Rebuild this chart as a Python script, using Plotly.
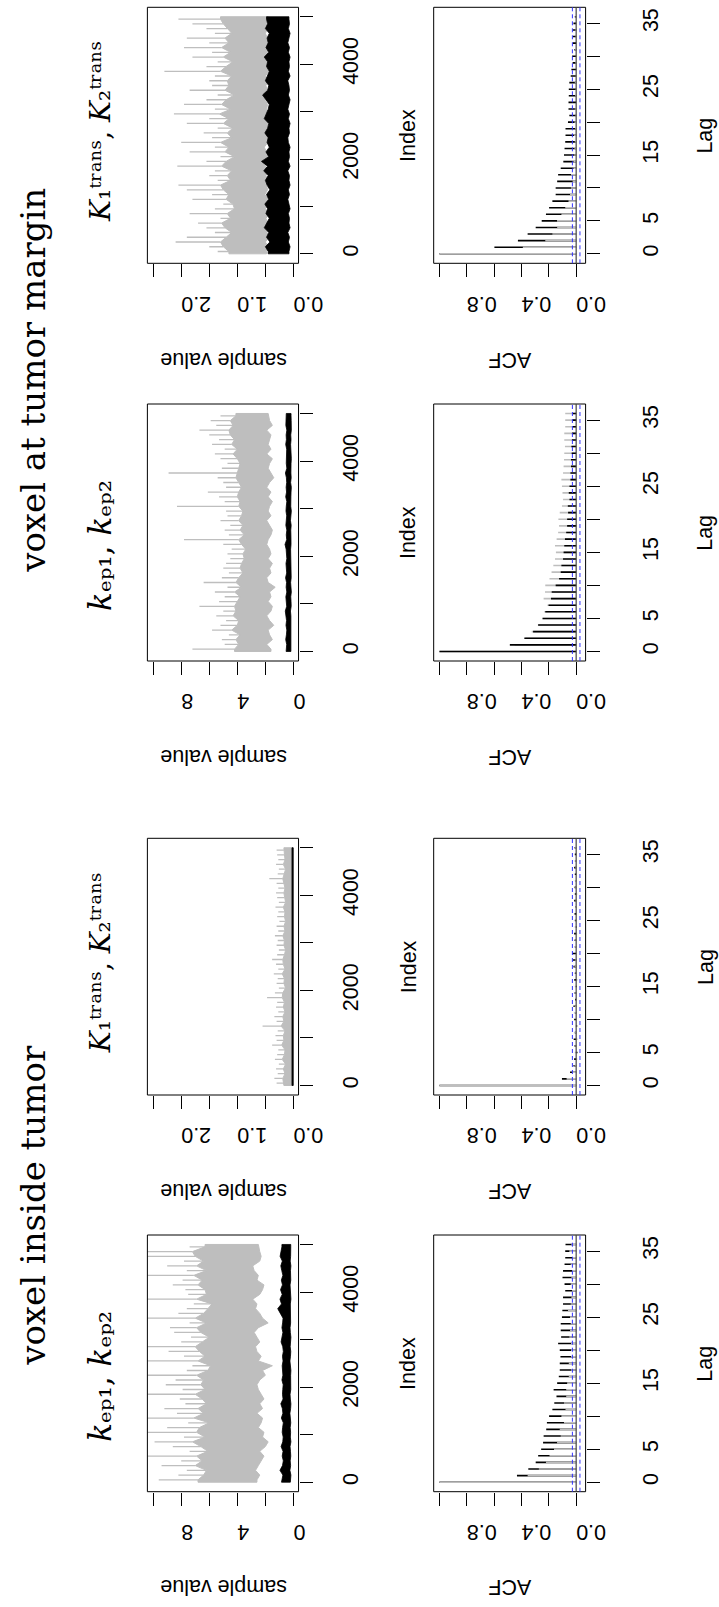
import plotly.graph_objects as go

W, H = 719, 1607

# ---------------- trace data: per 100-iteration bin ----------------
# lo = lowest sample, core = edge of the dense part, hi = highest excursion
# voxel at tumor margin, Ktrans
margin_ktrans_gray_lo = [0.48,0.45,0.50,0.44,0.47,0.52,0.46,0.49,0.43,0.50,
                         0.47,0.44,0.51,0.46,0.48,0.42,0.49,0.45,0.50,0.47,
                         0.44,0.48,0.52,0.46,0.43,0.49,0.47,0.45,0.50,0.44,
                         0.48,0.46,0.51,0.43,0.47,0.49,0.45,0.50,0.44,0.48,
                         0.46,0.52,0.45,0.49,0.43,0.47,0.50,0.46,0.48,0.45]
margin_ktrans_gray_core = [1.15,1.25,1.30,1.20,1.10,1.22,1.28,1.12,1.18,1.05,
                           1.08,1.20,1.15,1.25,1.30,1.12,1.18,1.10,1.28,1.20,
                           1.05,1.22,1.15,1.30,1.10,1.18,1.08,1.25,1.15,1.32,
                           1.12,1.28,1.20,1.05,1.22,1.15,1.18,1.10,1.30,1.20,
                           1.08,1.25,1.12,1.28,1.15,1.22,1.10,1.18,1.25,1.30]
margin_ktrans_gray_hi = [1.35,1.50,2.10,1.90,1.40,1.55,1.70,1.30,1.85,1.40,
                         1.25,1.80,1.45,1.90,2.05,1.35,1.50,1.40,2.07,1.55,
                         1.30,1.85,1.40,2.00,1.45,1.60,1.35,1.90,1.50,2.13,
                         1.40,1.95,1.55,1.35,1.85,1.45,1.50,1.40,2.30,1.55,
                         1.35,1.80,1.45,1.95,1.50,1.90,1.40,1.55,1.80,2.05]
margin_ktrans_black_lo = [0.08,0.06,0.09,0.07,0.10,0.06,0.08,0.07,0.09,0.06,
                          0.08,0.10,0.07,0.09,0.06,0.08,0.07,0.10,0.06,0.09,
                          0.07,0.08,0.06,0.09,0.10,0.07,0.08,0.06,0.09,0.07,
                          0.10,0.08,0.06,0.09,0.07,0.08,0.10,0.06,0.09,0.07,
                          0.08,0.06,0.09,0.07,0.10,0.08,0.06,0.09,0.07,0.08]
margin_ktrans_black_hi = [0.45,0.50,0.42,0.48,0.44,0.52,0.47,0.43,0.49,0.46,
                          0.51,0.44,0.48,0.42,0.47,0.50,0.45,0.53,0.46,0.57,
                          0.44,0.49,0.43,0.47,0.45,0.51,0.46,0.44,0.52,0.48,
                          0.45,0.43,0.49,0.55,0.46,0.44,0.50,0.47,0.43,0.48,
                          0.46,0.52,0.44,0.49,0.45,0.47,0.43,0.50,0.46,0.48]
# voxel at tumor margin, kep
margin_kep_gray_lo = [1.6,1.9,1.5,1.7,1.8,1.4,1.7,1.9,1.6,1.5,
                      1.8,1.6,1.7,1.3,1.8,1.9,1.6,1.7,1.5,1.8,
                      1.6,1.7,1.9,1.8,1.6,1.5,1.7,1.9,1.6,1.8,
                      1.7,1.5,1.8,1.6,1.9,1.7,1.4,1.6,1.8,1.7,
                      1.5,1.9,1.6,1.8,1.7,1.6,1.9,1.5,1.7,1.8]
margin_kep_gray_core = [4.2,3.9,4.1,3.8,4.4,4.0,3.9,4.3,4.1,4.2,
                        4.0,3.8,4.2,3.7,4.1,3.9,3.6,3.8,3.7,3.5,
                        3.6,3.4,3.7,3.9,3.5,3.8,3.6,3.9,3.7,3.6,
                        3.9,3.8,4.0,3.9,3.7,3.9,4.1,4.0,3.9,3.8,
                        4.0,4.3,4.0,4.4,4.2,4.5,4.6,4.3,4.5,4.1]
margin_kep_gray_hi = [7.2,4.9,5.1,4.6,5.8,5.2,4.8,5.5,5.0,6.7,
                      5.3,4.9,5.6,4.7,6.4,5.1,4.6,5.0,4.8,4.5,
                      4.7,4.4,5.0,7.8,4.6,4.9,4.5,5.2,4.7,4.8,
                      8.3,4.9,5.3,6.1,4.8,5.0,5.4,8.9,5.1,4.7,
                      5.2,5.6,4.9,5.8,5.3,6.0,6.7,5.5,5.9,5.2]
margin_kep_black_lo = [0.18,0.15,0.20,0.17,0.16,0.19,0.15,0.18,0.21,0.16,
                       0.17,0.19,0.15,0.18,0.20,0.16,0.17,0.15,0.19,0.18,
                       0.16,0.20,0.17,0.15,0.18,0.19,0.16,0.21,0.17,0.15,
                       0.19,0.16,0.18,0.17,0.15,0.20,0.16,0.18,0.19,0.17,
                       0.15,0.18,0.16,0.20,0.17,0.19,0.15,0.18,0.16,0.17]
margin_kep_black_hi = [0.52,0.48,0.55,0.50,0.47,0.53,0.49,0.51,0.58,0.48,
                       0.50,0.54,0.47,0.52,0.49,0.56,0.48,0.51,0.53,0.47,
                       0.49,0.52,0.60,0.48,0.51,0.47,0.54,0.50,0.48,0.53,
                       0.51,0.47,0.55,0.49,0.52,0.48,0.50,0.57,0.47,0.51,
                       0.53,0.49,0.48,0.55,0.50,0.52,0.47,0.54,0.49,0.51]
# voxel inside tumor, Ktrans
inside_ktrans_gray_lo = [0.012,0.008,0.015,0.010,0.006,0.014,0.009,0.011,0.007,0.013,
                         0.010,0.006,0.012,0.015,0.008,0.011,0.009,0.013,0.007,0.010,
                         0.014,0.008,0.011,0.006,0.012,0.009,0.015,0.010,0.007,0.013,
                         0.009,0.011,0.006,0.014,0.010,0.008,0.012,0.007,0.015,0.009,
                         0.011,0.013,0.008,0.010,0.006,0.012,0.009,0.014,0.007,0.011]
inside_ktrans_gray_core = [0.17,0.19,0.15,0.18,0.14,0.20,0.16,0.15,0.21,0.17,
                           0.18,0.15,0.22,0.17,0.19,0.15,0.18,0.16,0.20,0.19,
                           0.14,0.17,0.16,0.20,0.15,0.18,0.19,0.16,0.14,0.17,
                           0.16,0.19,0.15,0.17,0.14,0.16,0.15,0.18,0.14,0.16,
                           0.17,0.15,0.17,0.19,0.16,0.14,0.18,0.15,0.16,0.17]
inside_ktrans_gray_hi = [0.30,0.34,0.28,0.31,0.26,0.33,0.29,0.27,0.38,0.30,
                         0.32,0.28,0.55,0.30,0.34,0.27,0.31,0.29,0.47,0.33,
                         0.26,0.30,0.28,0.35,0.27,0.31,0.38,0.29,0.26,0.30,
                         0.28,0.33,0.27,0.30,0.25,0.29,0.27,0.32,0.26,0.29,
                         0.31,0.27,0.30,0.43,0.28,0.26,0.31,0.27,0.29,0.30]
inside_ktrans_black_lo = [0.004,0.006,0.003,0.005,0.007,0.004,0.006,0.003,0.005,0.004,
                          0.006,0.003,0.005,0.004,0.007,0.005,0.003,0.006,0.004,0.005,
                          0.003,0.006,0.004,0.005,0.007,0.003,0.005,0.004,0.006,0.003,
                          0.005,0.004,0.006,0.003,0.005,0.007,0.004,0.006,0.003,0.005,
                          0.004,0.006,0.003,0.005,0.004,0.007,0.005,0.003,0.006,0.004]
inside_ktrans_black_hi = [0.026,0.022,0.028,0.024,0.021,0.027,0.023,0.025,0.029,0.022,
                          0.024,0.027,0.021,0.026,0.023,0.028,0.022,0.025,0.024,0.027,
                          0.023,0.026,0.030,0.022,0.025,0.021,0.027,0.024,0.022,0.026,
                          0.025,0.023,0.028,0.021,0.026,0.024,0.022,0.027,0.023,0.025,
                          0.026,0.022,0.024,0.028,0.023,0.025,0.021,0.027,0.024,0.026]
# voxel inside tumor, kep
inside_kep_gray_lo = [2.6,2.4,2.7,2.5,2.3,2.1,2.4,2.0,1.8,2.2,
                      2.1,2.5,2.3,2.2,2.6,2.2,2.4,2.1,2.3,2.5,
                      2.6,2.4,2.0,2.2,1.5,2.5,2.3,2.6,2.7,2.4,
                      2.6,2.8,2.5,1.8,2.2,2.4,2.7,2.6,2.9,2.4,
                      2.2,2.1,2.6,2.5,2.8,2.9,2.4,2.3,2.4,2.5]
inside_kep_gray_core = [6.8,6.4,6.2,7.0,6.5,6.9,6.1,6.6,7.2,6.3,
                        6.9,6.7,6.0,7.1,6.4,6.8,6.2,6.5,7.0,6.3,
                        6.6,6.4,6.9,6.1,5.9,6.8,6.3,6.7,7.0,6.5,
                        6.0,6.6,6.9,6.2,7.0,6.4,6.1,5.8,6.9,6.2,
                        6.3,6.8,6.5,7.1,6.2,6.9,6.4,7.0,7.2,6.3]
inside_kep_gray_hi = [9.6,8.2,7.6,9.4,8.0,10.8,7.4,8.6,9.9,7.8,
                      10.8,9.0,7.5,10.8,8.3,9.2,7.7,8.1,10.8,7.9,
                      9.1,8.4,10.8,7.6,7.2,10.8,7.8,8.9,10.8,8.0,
                      7.3,8.5,8.8,7.4,10.8,8.2,7.6,7.1,10.8,7.5,
                      7.7,8.6,7.9,10.8,7.6,9.0,7.8,10.8,10.8,7.4]
inside_kep_black_lo = [0.22,0.18,0.25,0.20,0.23,0.19,0.21,0.24,0.18,0.22,
                       0.20,0.23,0.19,0.21,0.25,0.20,0.18,0.22,0.24,0.19,
                       0.21,0.23,0.20,0.18,0.22,0.25,0.21,0.19,0.23,0.20,
                       0.18,0.22,0.24,0.20,0.21,0.19,0.23,0.22,0.18,0.21,
                       0.20,0.24,0.19,0.22,0.21,0.18,0.23,0.20,0.22,0.19]
inside_kep_black_hi = [0.85,0.75,0.96,0.78,0.72,0.80,0.74,0.88,0.76,0.73,
                       0.80,0.77,0.72,0.86,0.75,0.79,0.90,0.74,0.78,0.76,
                       0.73,0.82,0.75,0.77,0.80,0.74,0.78,0.72,0.76,0.88,
                       0.79,0.75,0.82,0.77,0.74,0.95,1.12,0.85,0.96,0.80,
                       0.92,0.78,0.86,0.75,0.83,0.90,0.79,0.95,0.88,0.82]

# ---------------- ACF values, lags 0..36 ----------------
lags = list(range(37))
margin_ktrans_acf_black = [1.0,0.598,0.426,0.355,0.296,0.252,0.221,0.198,0.174,0.15,
                           0.15,0.139,0.132,0.113,0.094,0.089,0.085,0.08,0.078,0.078,
                           0.06,0.05,0.056,0.056,0.054,0.054,0.05,0.04,0.035,0.026,
                           0.03,0.014,0.025,0.024,0.025,0.02,0.01]
margin_ktrans_acf_gray = [1.0,0.39,0.226,0.174,0.139,0.14,0.108,0.08,0.056,0.045,
                          0.038,0.026,0.038,0.02,0.02,0.014,0.012,0.01,0.015,0.008,
                          0.012,0.005,0.01,-0.005,0.008,0.004,0.01,0.003,-0.004,0.006,
                          0.002,0.01,-0.003,0.004,0.007,0.002,0.005]
margin_kep_acf_black = [1.0,0.485,0.379,0.315,0.278,0.245,0.226,0.202,0.184,0.179,
                        0.15,0.125,0.113,0.108,0.096,0.092,0.087,0.082,0.073,0.066,
                        0.066,0.059,0.061,0.049,0.054,0.049,0.042,0.042,0.038,0.038,
                        0.033,0.035,0.031,0.031,0.026,0.026,0.026]
margin_kep_acf_gray = [1.0,0.45,0.37,0.325,0.28,0.25,0.233,0.21,0.238,0.228,
                       0.226,0.195,0.18,0.167,0.155,0.148,0.155,0.143,0.132,0.125,
                       0.13,0.12,0.104,0.096,0.10,0.104,0.108,0.096,0.092,0.089,
                       0.087,0.082,0.087,0.087,0.08,0.08,0.08]
inside_ktrans_acf_black = [1.0,0.104,0.045,0.02,0.015,-0.01,0.012,0.018,0.01,-0.008,
                           0.015,0.01,0.02,0.008,0.012,-0.006,0.014,0.01,0.02,0.025,
                           0.03,0.01,0.012,0.015,-0.005,0.01,0.012,0.008,0.015,0.01,
                           0.012,0.005,0.01,0.015,0.008,0.01,0.012]
inside_ktrans_acf_gray = [1.0,0.07,0.03,0.012,-0.008,0.01,0.006,-0.01,0.012,0.004,
                          -0.006,0.009,0.011,-0.004,0.007,0.01,-0.009,0.005,0.012,0.008,
                          -0.005,0.01,0.006,-0.007,0.011,0.004,-0.006,0.009,0.005,-0.008,
                          0.007,0.01,-0.004,0.006,0.012,-0.006,0.008]
inside_kep_acf_black = [1.0,0.433,0.35,0.296,0.278,0.256,0.242,0.238,0.219,0.214,
                        0.198,0.174,0.16,0.144,0.165,0.139,0.127,0.12,0.12,0.115,
                        0.12,0.132,0.11,0.113,0.113,0.104,0.101,0.096,0.096,0.08,
                        0.085,0.1,0.096,0.085,0.08,0.08,0.078]
inside_kep_acf_gray = [1.0,0.355,0.273,0.221,0.195,0.162,0.14,0.113,0.12,0.089,
                       0.108,0.078,0.089,0.073,0.073,0.066,0.054,0.038,0.054,0.038,
                       0.038,0.038,0.05,0.045,0.04,0.045,0.06,0.04,0.035,0.03,
                       0.04,0.035,0.03,0.04,0.03,0.05,0.035]
acf_conf = 0.0277

# ---------------- ticks ----------------
index_ticks = [0, 1000, 2000, 3000, 4000, 5000]
index_labeled = [0, 2000, 4000]
lag_ticks = [0, 5, 10, 15, 20, 25, 30, 35]
lag_labeled = [0, 5, 15, 25, 35]
ktrans_ticks = [0, 0.5, 1.0, 1.5, 2.0, 2.5]
ktrans_labeled = [0.0, 1.0, 2.0]
ktrans_labels = ["0.0", "1.0", "2.0"]
kep_ticks = [0, 2, 4, 6, 8, 10]
kep_labeled = [0, 4, 8]
kep_labels = ["0", "4", "8"]
acf_ticks = [0, 0.2, 0.4, 0.6, 0.8, 1.0]
acf_labeled = [0.0, 0.4, 0.8]
acf_labels = ["0.0", "0.4", "0.8"]

titles = ["voxel at tumor margin", "voxel inside tumor"]
ktrans_title = "<i>K</i>\u2081\u1d57\u02b3\u1d43\u207f\u02e2, <i>K</i>\u2082\u1d57\u02b3\u1d43\u207f\u02e2"
kep_title = "<i>k</i>\u2091\u209a\u2081, <i>k</i>\u2091\u209a\u2082"

GRAY = "#BEBEBE"
SANS = "Liberation Sans, Arial, sans-serif"
SERIF = "DejaVu Serif, serif"
FS = 21.5

rows = [(7.3, 263.3), (404.0, 661.0), (838.3, 1095.0), (1235.0, 1491.7)]
trace_box_x = (152.7, 309.3)
acf_box_x = (449.3, 606.7)

panels = [
    dict(lo_g=margin_ktrans_gray_lo, core_g=margin_ktrans_gray_core, hi_g=margin_ktrans_gray_hi,
         lo_b=margin_ktrans_black_lo, hi_b=margin_ktrans_black_hi,
         acf_b=margin_ktrans_acf_black, acf_g=margin_ktrans_acf_gray, gray_top=True,
         vt=ktrans_ticks, vlt=ktrans_labeled, vl=ktrans_labels, vr=[2.603, -0.091],
         title=ktrans_title, tsize=28, tshift=-3.8),
    dict(lo_g=margin_kep_gray_lo, core_g=margin_kep_gray_core, hi_g=margin_kep_gray_hi,
         lo_b=margin_kep_black_lo, hi_b=margin_kep_black_hi,
         acf_b=margin_kep_acf_black, acf_g=margin_kep_acf_gray, gray_top=False,
         vt=kep_ticks, vlt=kep_labeled, vl=kep_labels, vr=[10.41, -0.365],
         title=kep_title, tsize=31, tshift=13),
    dict(lo_g=inside_ktrans_gray_lo, core_g=inside_ktrans_gray_core, hi_g=inside_ktrans_gray_hi,
         lo_b=inside_ktrans_black_lo, hi_b=inside_ktrans_black_hi,
         acf_b=inside_ktrans_acf_black, acf_g=inside_ktrans_acf_gray, gray_top=True,
         vt=ktrans_ticks, vlt=ktrans_labeled, vl=ktrans_labels, vr=[2.603, -0.091],
         title=ktrans_title, tsize=28, tshift=-3.8),
    dict(lo_g=inside_kep_gray_lo, core_g=inside_kep_gray_core, hi_g=inside_kep_gray_hi,
         lo_b=inside_kep_black_lo, hi_b=inside_kep_black_hi,
         acf_b=inside_kep_acf_black, acf_g=inside_kep_acf_gray, gray_top=True,
         vt=kep_ticks, vlt=kep_labeled, vl=kep_labels, vr=[10.41, -0.365],
         title=kep_title, tsize=31, tshift=13),
]

STEP = 100


def centers(n):
    return [STEP * i + STEP / 2 for i in range(n)]


def band(lo, hi):
    idx = [1] + centers(len(lo)) + [STEP * len(lo)]
    lo_e = [lo[0]] + list(lo) + [lo[-1]]
    hi_e = [hi[0]] + list(hi) + [hi[-1]]
    return lo_e + hi_e[::-1] + [lo_e[0]], idx + idx[::-1] + [idx[0]]


def streaks(core, hi):
    xs, ys = [], []
    for c, a, b in zip(centers(len(core)), core, hi):
        xs += [a, b, None]
        ys += [c, c, None]
    return xs, ys


def sticks(values):
    xs, ys = [], []
    for lag, v in zip(lags, values):
        xs += [0, v, None]
        ys += [lag, lag, None]
    return xs, ys


def pxx(x):
    return x / W


def pyy(y):
    return 1 - y / H


def ann(text, x, y, angle, family, size):
    return dict(text=text, textangle=angle, x=pxx(x), y=pyy(y), xref="paper", yref="paper",
                xanchor="center", yanchor="middle", showarrow=False,
                font=dict(family=family, size=size, color="black"))


TICK = dict(ticks="outside", ticklen=13, tickwidth=1, tickcolor="black")

fig = go.Figure()
layout = dict(width=W, height=H, margin=dict(l=0, r=0, t=0, b=0),
              paper_bgcolor="white", plot_bgcolor="white", showlegend=False)
shapes, annotations = [], []

for r, p in enumerate(panels):
    top, bot = rows[r]
    mid = (top + bot) / 2
    ydom = [pyy(bot), pyy(top)]
    kt, ka = 2 * r + 1, 2 * r + 2
    for k in (kt, ka):
        xa = "x" if k == 1 else f"x{k}"
        ya = "y" if k == 1 else f"y{k}"
        is_trace = k == kt
        box_x = trace_box_x if is_trace else acf_box_x
        xname = "xaxis" if k == 1 else f"xaxis{k}"
        yname = "yaxis" if k == 1 else f"yaxis{k}"
        layout[xname] = dict(
            domain=[pxx(box_x[0]), pxx(box_x[1])], anchor=ya,
            range=p["vr"] if is_trace else [1.042, -0.069],
            tickmode="array", tickvals=p["vlt"] if is_trace else acf_labeled,
            ticktext=p["vl"] if is_trace else acf_labels,
            minor=dict(tickmode="array", tickvals=p["vt"] if is_trace else acf_ticks, **TICK),
            tickangle=180, ticklabelstandoff=15,
            tickfont=dict(family=SANS, size=FS, color="black"),
            showgrid=False, zeroline=False, showline=False, **TICK)
        layout[yname] = dict(
            domain=ydom, anchor=xa, side="right",
            range=[-199, 5199] if is_trace else [-1.44, 37.44],
            tickmode="array", tickvals=index_labeled if is_trace else lag_labeled,
            ticktext=[str(v) for v in (index_labeled if is_trace else lag_labeled)],
            minor=dict(tickmode="array", tickvals=index_ticks if is_trace else lag_ticks, **TICK),
            tickangle=-90, ticklabelstandoff=20 if is_trace else 33,
            tickfont=dict(family=SANS, size=FS, color="black"),
            showgrid=False, zeroline=False, showline=False, **TICK)
        shapes.append(dict(type="rect", xref=f"{xa} domain", yref=f"{ya} domain",
                           x0=0, x1=1, y0=0, y1=1, line=dict(color="black", width=1)))
        cx = (box_x[0] + box_x[1]) / 2
        annotations.append(ann("sample value" if is_trace else "ACF", cx, bot + 96, 180, SANS, FS))
        if is_trace:
            annotations.append(ann("Index", box_x[1] + 114, mid, -90, SANS, FS))
            v, i = band(p["lo_g"], p["core_g"])
            fig.add_trace(go.Scatter(x=v, y=i, xaxis=xa, yaxis=ya, mode="lines", fill="toself",
                                     fillcolor=GRAY, line=dict(color=GRAY, width=1), hoverinfo="skip"))
            sx, sy = streaks(p["core_g"], p["hi_g"])
            fig.add_trace(go.Scatter(x=sx, y=sy, xaxis=xa, yaxis=ya, mode="lines",
                                     line=dict(color=GRAY, width=1.3), hoverinfo="skip"))
            v, i = band(p["lo_b"], p["hi_b"])
            fig.add_trace(go.Scatter(x=v, y=i, xaxis=xa, yaxis=ya, mode="lines", fill="toself",
                                     fillcolor="black", line=dict(color="black", width=0.8), hoverinfo="skip"))
        else:
            annotations.append(ann("Lag", box_x[1] + 124, mid, -90, SANS, FS))
            order = [("black", p["acf_b"]), (GRAY, p["acf_g"])]
            if not p["gray_top"]:
                order = order[::-1]
            for col, vals in order:
                sx, sy = sticks(vals)
                fig.add_trace(go.Scatter(x=sx, y=sy, xaxis=xa, yaxis=ya, mode="lines",
                                         line=dict(color=col, width=1.6), hoverinfo="skip"))
            shapes.append(dict(type="line", xref=xa, yref=f"{ya} domain", x0=0, x1=0, y0=0, y1=1,
                               line=dict(color="#444444", width=1.2)))
            for c in (acf_conf, -acf_conf):
                shapes.append(dict(type="line", xref=xa, yref=f"{ya} domain", x0=c, x1=c, y0=0, y1=1,
                                   line=dict(color="#3333ff", width=1, dash="4px,3px")))
    annotations.append(ann(p["title"], 104, mid + p["tshift"], -90, SERIF, p["tsize"]))

annotations.append(ann(titles[0], 34, 380, -90, SERIF, 34))
annotations.append(ann(titles[1], 34, 1205, -90, SERIF, 34))

layout["shapes"] = shapes
layout["annotations"] = annotations
fig.update_layout(**layout)
fig.write_html("out.html")
